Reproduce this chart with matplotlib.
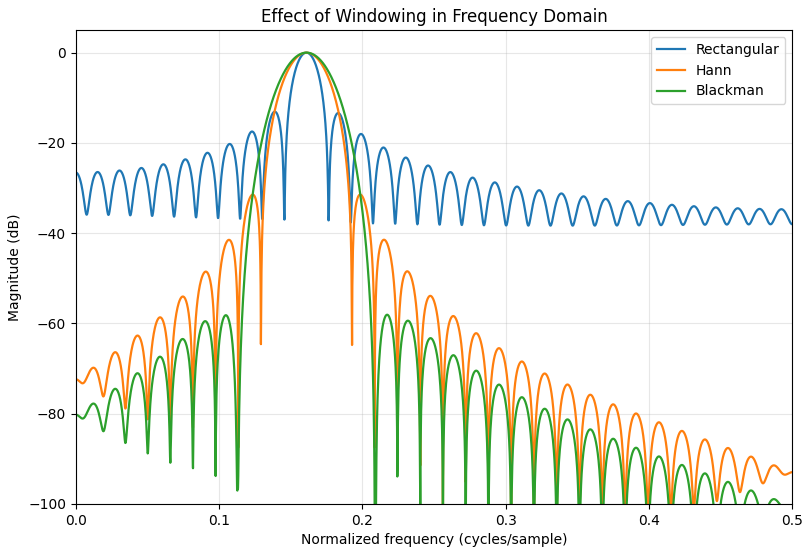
import numpy as np
import matplotlib
matplotlib.use("Agg")
import matplotlib.pyplot as plt

# Test signal: a real cosine observed over a short record
n_samples = 64
tone_freq = 0.161         # cycles/sample
nfft = 5000               # zero-padded FFT length

window_names = ["Rectangular", "Hann", "Blackman"]
windows = [np.ones(n_samples), np.hanning(n_samples), np.blackman(n_samples)]

n = np.arange(n_samples)
signal = np.cos(2 * np.pi * tone_freq * n)

freqs = np.fft.rfftfreq(nfft)

fig, ax = plt.subplots(figsize=(8.06, 5.47), dpi=100)
for name, w in zip(window_names, windows):
    spec = np.abs(np.fft.rfft(signal * w, nfft))
    mag_db = 20 * np.log10(spec / spec.max() + 1e-12)
    ax.plot(freqs, mag_db, label=name, linewidth=1.6)

ax.set_xlim(0, 0.5)
ax.set_ylim(-100, 5)
ax.set_title("Effect of Windowing in Frequency Domain")
ax.set_xlabel("Normalized frequency (cycles/sample)")
ax.set_ylabel("Magnitude (dB)")
ax.grid(True, alpha=0.3)
ax.legend(loc="upper right")
fig.subplots_adjust(left=0.094, right=0.983, top=0.945, bottom=0.079)
fig.savefig("out.png")
